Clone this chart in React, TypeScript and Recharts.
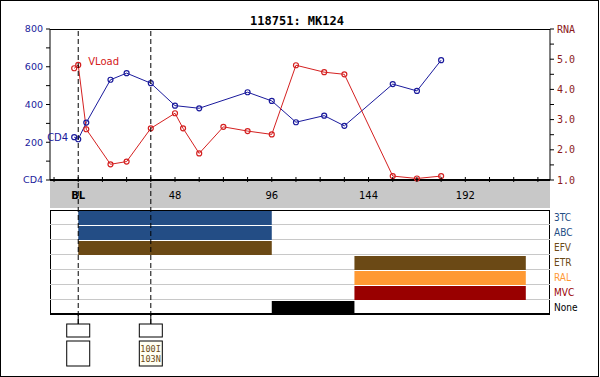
import React from "react";
import {
  ComposedChart,
  Line,
  Bar,
  Cell,
  XAxis,
  YAxis,
  CartesianGrid,
  ReferenceLine,
  LabelList,
} from "recharts";

// CD4 counts (left axis) and viral load log10 (right axis), by week
const cd4Weeks = [-2, 0, 4, 16, 24, 36, 48, 60, 84, 96, 108, 122, 132, 156, 168, 180];
const cd4Counts = [227, 216, 304, 531, 566, 513, 394, 380, 465, 419, 306, 341, 287, 508, 472, 635];

const vlWeeks = [-2, 0, 4, 16, 24, 36, 48, 52, 60, 72, 84, 96, 108, 122, 132, 156, 168, 180];
const vlLogs = [4.7, 4.81, 2.68, 1.52, 1.61, 2.71, 3.21, 2.71, 1.88, 2.76, 2.62, 2.51, 4.8, 4.57, 4.5, 1.13, 1.05, 1.13];

// treatment periods
const drugs = ["3TC", "ABC", "EFV", "ETR", "RAL", "MVC", "None"];
const drugStart = [0, 0, 0, 137, 137, 137, 96];
const drugStop = [96, 96, 96, 222, 222, 222, 137];
const drugColors = ["#234d85", "#234d85", "#6b4915", "#6b4915", "#ff9933", "#990000", "#000000"];

// resistance tests
const testWeeks = [0, 36];
const testMutations = [[], ["100I", "103N"]];

// axis ticks
const weekTicks = [-12, 0, 12, 24, 36, 48, 60, 72, 84, 96, 108, 120, 132, 144, 156, 168, 180, 192, 204, 216, 228];
const weekLabels: Record<number, string> = { 0: "BL", 48: "48", 96: "96", 144: "144", 192: "192" };
const cd4Ticks = [0, 100, 200, 300, 400, 500, 600, 700, 800];
const cd4Labels: Record<number, string> = { 0: "CD4", 200: "200", 400: "400", 600: "600", 800: "800" };
const rnaTicks = [1, 1.5, 2, 2.5, 3, 3.5, 4, 4.5, 5, 5.5, 6];
const rnaLabels: Record<number, string> = { 1: "1.0", 2: "2.0", 3: "3.0", 4: "4.0", 5: "5.0", 6: "RNA" };

const cd4Data = cd4Weeks.map((week, i) => ({ week, cd4: cd4Counts[i] }));
const vlData = vlWeeks.map((week, i) => ({ week, rna: vlLogs[i] }));
const drugRows = drugs.map((drug, i) => ({ drug, span: [drugStart[i], drugStop[i]] }));
// "level" only anchors the hidden helper series so the overlay has a y scale
const testRows = testWeeks.map((week, i) => ({ week, level: 0, muts: testMutations[i] }));

const WEEK_DOMAIN: [number, number] = [-14, 234];
const BLUE = "#1a1a9c";
const RED = "#d42020";
const ROW_H = 15;
const PANEL_TOP = 210;

const WeekTick = (props: any) => {
  const { x, y, payload } = props;
  const label = weekLabels[payload.value];
  return (
    <g>
      <line x1={x} x2={x} y1={y - 3} y2={y + 2} stroke="#000" />
      {label && (
        <text
          x={x}
          y={y + 19}
          textAnchor="middle"
          fontFamily="DejaVu Sans"
          fontSize={10}
          fontWeight={label === "BL" ? "bold" : "normal"}
          fill="#000"
        >
          {label}
        </text>
      )}
    </g>
  );
};

const DrugTick = (props: any) => {
  const { x, y, payload } = props;
  const i = drugs.indexOf(payload.value);
  return (
    <text
      x={x}
      y={y}
      dy="0.36em"
      textAnchor="start"
      fontFamily="'DejaVu Sans Condensed', 'DejaVu Sans'"
      fontStretch="condensed"
      fontSize={10}
      fill={drugColors[i]}
    >
      {payload.value}
    </text>
  );
};

const TestBox = (props: any) => {
  const { viewBox, muts } = props;
  if (!viewBox) return null;
  const cx = viewBox.x;
  const top = viewBox.y + viewBox.height;
  return (
    <g>
      <line x1={cx} x2={cx} y1={top - 10} y2={top} stroke="#000" />
      <rect x={cx - 11.5} y={top} width={23} height={13} fill="#fff" stroke="#000" />
      <rect x={cx - 11.5} y={top + 17} width={23} height={25} fill={muts.length ? "#fffff2" : "#fff"} stroke="#000" />
      {muts.map((m: string, k: number) => (
        <text key={m} x={cx - 10.5} y={top + 28 + k * 9.5} fontFamily="DejaVu Sans Mono" fontSize={8.5} fill="#6b4915">
          {m}
        </text>
      ))}
    </g>
  );
};

const layer: React.CSSProperties = { position: "absolute", left: 0, top: 0 };

export default function App() {
  return (
    <div style={{ position: "absolute", left: 0, top: 0, width: 600, height: 377, background: "#fff" }}>
      <svg width={600} height={377} style={layer}>
        <rect x={0.5} y={0.5} width={598} height={376} fill="#fff" stroke="#000" />
        <rect x={50} y={181} width={500} height={27} fill="#c8c8c8" />
        <line x1={50} x2={550} y1={29.5} y2={29.5} stroke="#000" />
        <rect x={50.5} y={210.5} width={499} height={104} fill="none" stroke="#000" />
        <line x1={50} x2={550} y1={314} y2={314} stroke="#000" strokeWidth={2} />
        <text x={297} y={25} textAnchor="middle" fontFamily="DejaVu Sans Mono" fontWeight="bold" fontSize={12} fill="#000">
          118751: MK124
        </text>
      </svg>

      <div style={layer}>
        <ComposedChart width={600} height={377} margin={{ top: 29, right: 0, bottom: 169, left: 0 }}>
          <XAxis
            type="number"
            dataKey="week"
            domain={WEEK_DOMAIN}
            allowDataOverflow
            ticks={weekTicks}
            interval={0}
            height={28}
            tickSize={0}
            tickMargin={0}
            tickLine={false}
            axisLine={{ stroke: "#000", strokeWidth: 2 }}
            tick={<WeekTick />}
          />
          <YAxis
            yAxisId="cd4"
            domain={[0, 800]}
            ticks={cd4Ticks}
            interval={0}
            width={50}
            tickSize={4}
            tickMargin={3}
            axisLine={{ stroke: "#000" }}
            tickLine={{ stroke: "#000" }}
            tickFormatter={(v: number) => cd4Labels[v] ?? ""}
            tick={{ fill: BLUE, fontSize: 9.5, fontFamily: "DejaVu Sans" }}
          />
          <YAxis
            yAxisId="rna"
            orientation="right"
            domain={[1, 6]}
            ticks={rnaTicks}
            interval={0}
            width={50}
            tickSize={4}
            tickMargin={3}
            axisLine={{ stroke: "#000" }}
            tickLine={{ stroke: "#000" }}
            tickFormatter={(v: number) => rnaLabels[v] ?? ""}
            tick={{ fill: "#8b1a1a", fontSize: 10, fontFamily: "DejaVu Sans Mono" }}
          />
          <Line
            yAxisId="cd4"
            data={cd4Data}
            dataKey="cd4"
            stroke={BLUE}
            strokeWidth={1}
            dot={{ r: 2.5, fill: "none", stroke: BLUE, strokeWidth: 1.2 }}
            isAnimationActive={false}
          >
            <LabelList
              dataKey="cd4"
              content={(p: any) =>
                p.index === 0 ? (
                  <text x={p.x - 6} y={p.y} dy="0.36em" textAnchor="end" fontFamily="DejaVu Sans" fontSize={10} fill={BLUE}>
                    CD4
                  </text>
                ) : null
              }
            />
          </Line>
          <Line
            yAxisId="rna"
            data={vlData}
            dataKey="rna"
            stroke={RED}
            strokeWidth={1}
            dot={{ r: 2.5, fill: "none", stroke: RED, strokeWidth: 1.2 }}
            isAnimationActive={false}
          >
            <LabelList
              dataKey="rna"
              content={(p: any) =>
                p.index === 0 ? (
                  <text x={p.x + 14} y={p.y - 7} dy="0.36em" textAnchor="start" fontFamily="DejaVu Sans" fontSize={10} fill={RED}>
                    VLoad
                  </text>
                ) : null
              }
            />
          </Line>
        </ComposedChart>
      </div>

      <div style={layer}>
        <ComposedChart
          layout="vertical"
          width={600}
          height={377}
          data={drugRows}
          margin={{ top: PANEL_TOP, right: 0, bottom: 62, left: 50 }}
          barCategoryGap={0}
        >
          <CartesianGrid
            horizontal
            vertical={false}
            stroke="#c8c8c8"
            horizontalPoints={drugs.slice(1).map((_, i) => PANEL_TOP + (i + 1) * ROW_H - 0.5)}
          />
          <XAxis type="number" domain={WEEK_DOMAIN} allowDataOverflow hide />
          <YAxis
            type="category"
            dataKey="drug"
            orientation="right"
            width={50}
            interval={0}
            axisLine={false}
            tickLine={false}
            tickSize={0}
            tickMargin={4}
            tick={<DrugTick />}
          />
          <Bar dataKey="span" barSize={14} isAnimationActive={false}>
            {drugRows.map((r, i) => (
              <Cell key={r.drug} fill={drugColors[i]} />
            ))}
          </Bar>
        </ComposedChart>
      </div>

      <div style={layer}>
        <ComposedChart width={600} height={377} data={testRows} margin={{ top: 29, right: 50, bottom: 53, left: 50 }}>
          <XAxis type="number" dataKey="week" domain={WEEK_DOMAIN} allowDataOverflow hide />
          <YAxis domain={[0, 1]} hide />
          <Line dataKey="level" stroke="none" dot={false} activeDot={false} isAnimationActive={false} />
          {testRows.map((t) => (
            <ReferenceLine
              key={t.week}
              x={t.week}
              stroke="#000"
              strokeDasharray="5 3"
              ifOverflow="visible"
              label={<TestBox muts={t.muts} />}
            />
          ))}
        </ComposedChart>
      </div>
    </div>
  );
}
